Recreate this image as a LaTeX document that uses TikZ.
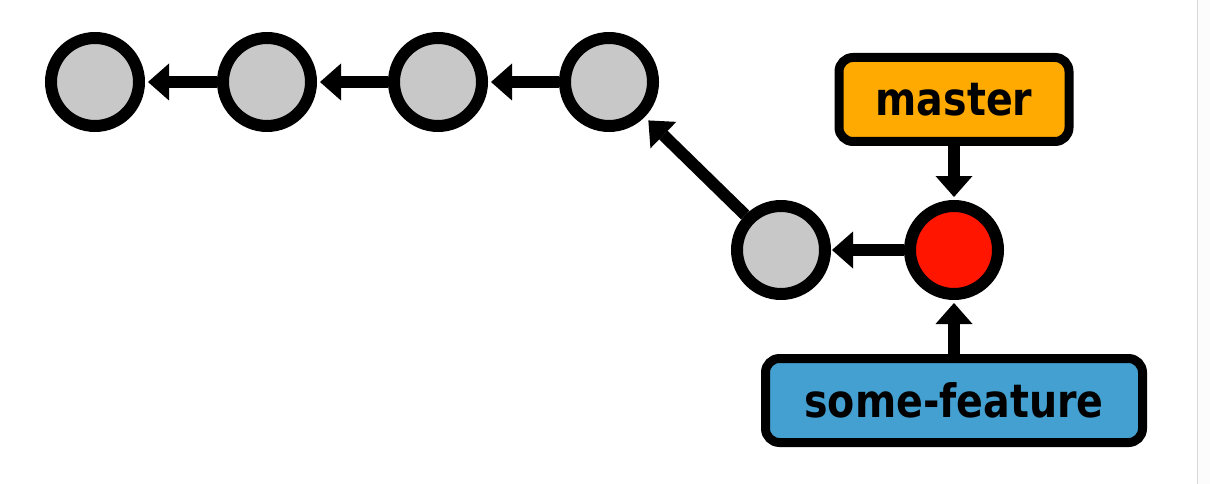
\documentclass[tikz,border=0pt]{standalone}
\usepackage{fontspec}
\newfontfamily\lab[FakeStretch=0.86]{DejaVu Sans Bold}
\usetikzlibrary{arrows.meta}
\definecolor{cgray}{HTML}{C8C8C8}
\definecolor{cred}{HTML}{FF1500}
\definecolor{corange}{HTML}{FFAA00}
\definecolor{cblue}{HTML}{44A0D0}
\definecolor{edge}{HTML}{D8D8D8}
\definecolor{side}{HTML}{FCFCFC}
\tikzset{
  commit/.style={circle, draw=black, line width=12pt, minimum size=88pt, inner sep=0pt, fill=cgray},
  headcommit/.style={commit, fill=cred},
  link/.style={line width=12pt, -{Triangle[length=21pt,width=37pt,line width=0pt]}, shorten >=3pt},
  branch/.style={rectangle, rounded corners=14pt, draw=black, line width=9pt, inner sep=0pt,
    minimum height=84pt, font=\lab\fontsize{46}{50}\selectfont, text=black},
}
\begin{document}
\begin{tikzpicture}[x=1pt,y=-1pt]
  \useasboundingbox (0,0) rectangle (1210,484);
  \fill[white] (0,0) rectangle (1197.5,484);
  \fill[side] (1197.5,0) rectangle (1210,484);
  \draw[edge, line width=1.5pt] (1197.5,0) -- (1197.5,484);

  \node[commit] (c1) at (95,82) {};
  \node[commit] (c2) at (267,82) {};
  \node[commit] (c3) at (438,82) {};
  \node[commit] (c4) at (609,82) {};
  \node[commit] (c5) at (781,250) {};
  \node[headcommit] (c6) at (954,250) {};

  \node[branch, fill=corange, minimum width=230pt] (master) at (954,99.5) {master};
  \node[branch, fill=cblue, minimum width=377pt] (feature) at (954,400.5) {some-feature};

  \draw[link] (c2) -- (c1);
  \draw[link] (c3) -- (c2);
  \draw[link] (c4) -- (c3);
  \draw[link, shorten >=5pt] (c5) -- (c4);
  \draw[link, shorten >=1pt] (c6) -- (c5);
  \draw[link] (master) -- (c6);
  \draw[link] (feature) -- (c6);
\end{tikzpicture}
\end{document}
